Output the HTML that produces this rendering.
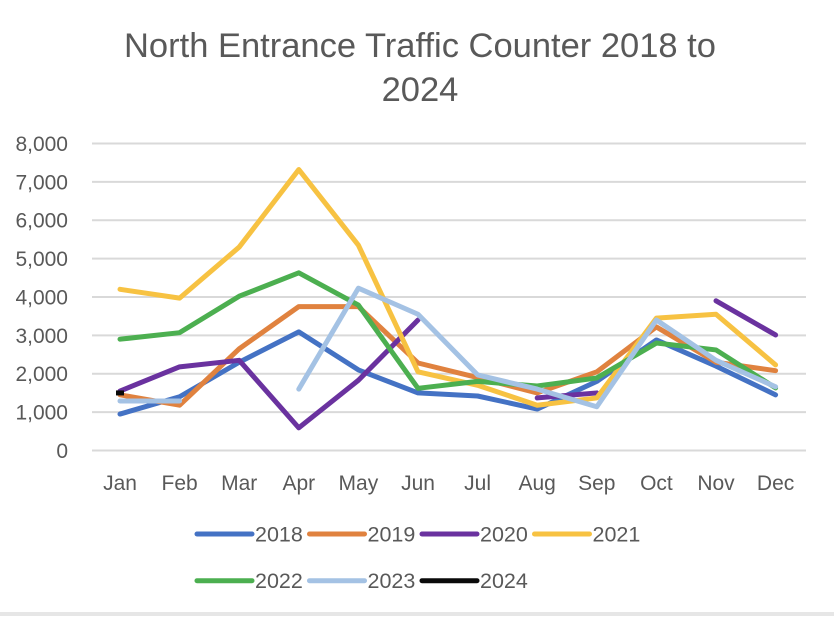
<!DOCTYPE html>
<html><head><meta charset="utf-8">
<style>
html,body{margin:0;padding:0;background:#fff;}
body{width:834px;height:616px;overflow:hidden;font-family:"Liberation Sans",Arial,sans-serif;}
svg text{font-family:"Liberation Sans",Arial,sans-serif;fill:#595959;}
</style></head>
<body>
<svg id="chart" width="834" height="616" viewBox="0 0 834 616" xmlns="http://www.w3.org/2000/svg">
<rect x="0" y="0" width="834" height="616" fill="#fff"/>
<rect x="0" y="612" width="834" height="4" fill="#e6e6e6"/>
<text x="420" y="57" font-size="34.5" text-anchor="middle">North Entrance Traffic Counter 2018 to</text>
<text x="420" y="101" font-size="34.5" text-anchor="middle">2024</text>
<g id="grid"></g><g id="yticks"></g><g id="xticks"></g><g id="series"></g><g id="legend"></g>
</svg>
<script>
const months=["Jan","Feb","Mar","Apr","May","Jun","Jul","Aug","Sep","Oct","Nov","Dec"];
const yTicks=[0,1000,2000,3000,4000,5000,6000,7000,8000];
const yTickLabels=["0","1,000","2,000","3,000","4,000","5,000","6,000","7,000","8,000"];
const years=["2018","2019","2020","2021","2022","2023","2024"];
const colors=["#4472c4","#e0823f","#6a329f","#f7c242","#4caf50","#a4c2e4","#0a0a0a"];
const s2018=[950,1400,2300,3090,2100,1500,1420,1080,1800,2880,2200,1450];
const s2019=[1450,1180,2650,3750,3750,2280,1900,1500,2050,3220,2300,2080];
const s2020=[1550,2180,2350,590,1830,3400,null,1370,1500,null,3900,3010];
const s2021=[4200,3970,5300,7320,5350,2050,1700,1180,1370,3450,3550,2230];
const s2022=[2900,3070,4020,4630,3790,1620,1800,1680,1890,2800,2620,1630];
const s2023=[1290,1290,null,1600,4230,3550,1970,1600,1140,3400,2350,1660];
const s2024=[1500,null,null,null,null,null,null,null,null,null,null,null];
const seriesData=[s2018,s2019,s2020,s2021,s2022,s2023,s2024];
const NS="http://www.w3.org/2000/svg";
const x=i=>120+i*59.6;
const y=v=>450.5-v*0.03838;
function mk(tag,attrs,parent){const e=document.createElementNS(NS,tag);for(const k in attrs)e.setAttribute(k,attrs[k]);parent.appendChild(e);return e;}
const grid=document.getElementById('grid'),yt=document.getElementById('yticks'),xt=document.getElementById('xticks'),sg=document.getElementById('series'),lg=document.getElementById('legend');
yTicks.forEach((t,i)=>{
  const l=mk('line',{x1:92,x2:806,y1:y(t),y2:y(t),stroke:'#d9d9d9','stroke-width':2},grid);
  
  
  const tx=mk('text',{x:68,y:y(t)+7.5,'font-size':21,'text-anchor':'end'},yt);
  tx.textContent=yTickLabels[i];
  
  
});
months.forEach((m,i)=>{
  const tx=mk('text',{x:x(i),y:490,'font-size':21,'text-anchor':'middle'},xt);
  tx.textContent=m;
  
  
});
seriesData.forEach((d,si)=>{
  const g=mk('g',{},sg);
  
  
  let segs=[],cur=[];
  d.forEach((v,i)=>{if(v==null){if(cur.length)segs.push(cur);cur=[];}else cur.push([x(i),y(v)]);});
  if(cur.length)segs.push(cur);
  segs.forEach(sgm=>{
    if(sgm.length===1){
      const p=mk('line',{x1:sgm[0][0]-4,x2:sgm[0][0]+4,y1:sgm[0][1],y2:sgm[0][1],stroke:colors[si],'stroke-width':5},g);
      
      
    }else{
      const p=mk('polyline',{points:sgm.map(q=>q.join(',')).join(' '),fill:'none',stroke:colors[si],'stroke-width':5,'stroke-linejoin':'round','stroke-linecap':'round'},g);
      
      
    }
  });
});
years.forEach((yr,i)=>{
  const col=i%4,row=Math.floor(i/4);
  const lx=197+col*112.5,ly=534+row*46.7;
  const g=mk('g',{},lg);
  
  
  mk('line',{x1:lx,x2:lx+55,y1:ly,y2:ly,stroke:colors[i],'stroke-width':5,'stroke-linecap':'round'},g);
  const t=mk('text',{x:lx+58,y:ly+7.5,'font-size':21.5},g);
  t.textContent=yr;
});
</script>
</body></html>
